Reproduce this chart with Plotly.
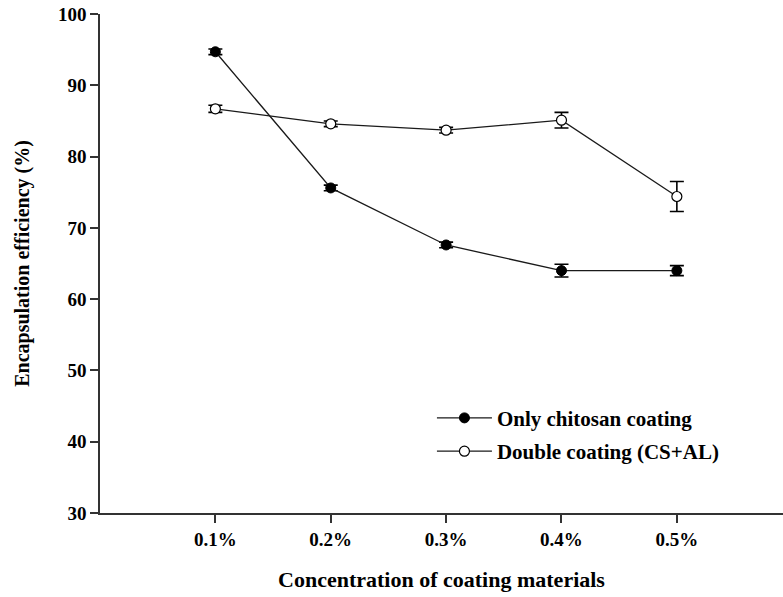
import plotly.graph_objects as go

# Coating concentration levels and encapsulation efficiency (%)
concentrations = ["0.1%", "0.2%", "0.3%", "0.4%", "0.5%"]
chitosan_eff = [94.7, 75.6, 67.6, 64.0, 64.0]
chitosan_err = [0.4, 0.4, 0.4, 0.9, 0.7]
double_eff = [86.7, 84.6, 83.7, 85.1, 74.4]
double_err = [0.5, 0.4, 0.4, 1.1, 2.1]

y_ticks = [30, 40, 50, 60, 70, 80, 90, 100]

xpos = list(range(1, len(concentrations) + 1))
FONT = "Liberation Serif"

fig = go.Figure()

fig.add_trace(go.Scatter(
    x=xpos, y=chitosan_eff, name="<b>Only chitosan coating</b>",
    mode="lines+markers",
    line=dict(color="#1a1a1a", width=1.3),
    marker=dict(symbol="circle", size=10, color="black",
                line=dict(color="black", width=1)),
    error_y=dict(type="data", array=chitosan_err, visible=True,
                 color="black", thickness=1.6, width=7),
    legendgroup="a",
))

fig.add_trace(go.Scatter(
    x=xpos, y=double_eff, name="<b>Double coating (CS+AL)</b>",
    mode="lines+markers",
    line=dict(color="#1a1a1a", width=1.3),
    marker=dict(symbol="circle", size=10, color="white",
                line=dict(color="black", width=1.2)),
    error_y=dict(type="data", array=double_err, visible=True,
                 color="black", thickness=1.6, width=7),
    legendgroup="b",
))

fig.update_layout(
    width=783, height=597,
    margin=dict(l=100, r=0, t=14, b=84),
    paper_bgcolor="white", plot_bgcolor="white",
    font=dict(family=FONT, color="black", size=18),
    showlegend=True,
    legend=dict(
        x=0.486, y=0.231, xanchor="left", yanchor="top",
        bgcolor="rgba(0,0,0,0)",
        font=dict(family=FONT, size=21, color="black"),
        tracegroupgap=3,
        traceorder="grouped",
        itemwidth=55,
    ),
    xaxis=dict(
        range=[0, 5.92],
        tickmode="array", tickvals=xpos,
        ticktext=[f"<b>{c}</b>" for c in concentrations],
        showline=True, linecolor="#333333", linewidth=1.6,
        ticks="outside", ticklen=8, tickwidth=1.5, tickcolor="#333333",
        showgrid=False, zeroline=False,
        tickfont=dict(family=FONT, size=19),
        title=dict(text="<b>Concentration of coating materials</b>",
                   font=dict(family=FONT, size=22), standoff=23),
    ),
    yaxis=dict(
        range=[30, 100],
        tickmode="array", tickvals=y_ticks,
        ticktext=[f"<b>{t}</b>" for t in y_ticks],
        showline=True, linecolor="#333333", linewidth=1.6,
        ticks="outside", ticklen=8, tickwidth=1.5, tickcolor="#333333",
        showgrid=False, zeroline=False,
        tickfont=dict(family=FONT, size=19),
        title=dict(text="<b>Encapsulation efficiency (%)</b>",
                   font=dict(family=FONT, size=20), standoff=23),
    ),
)

fig.write_html("out.html")
